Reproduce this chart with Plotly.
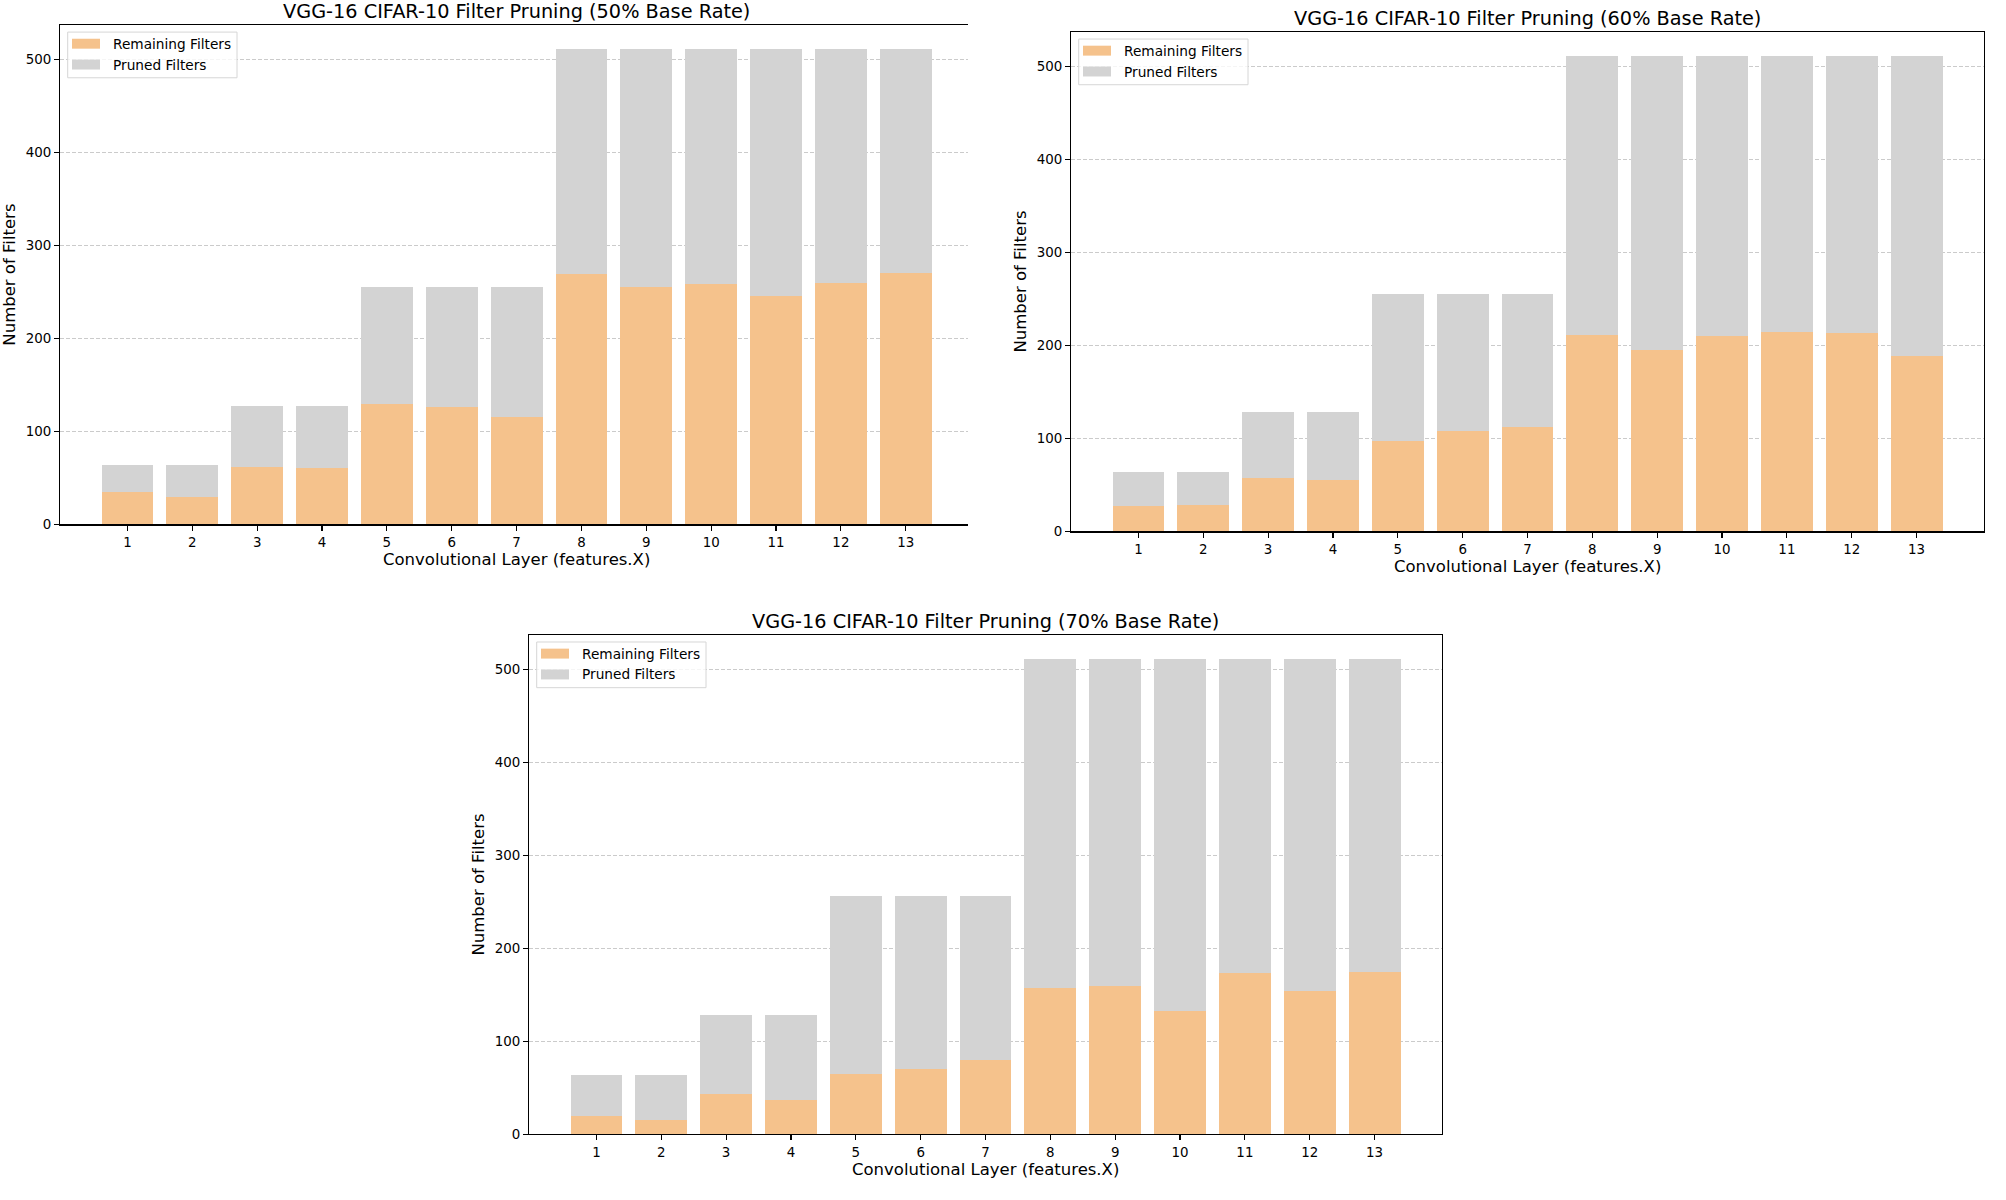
import plotly.graph_objects as go

# ---------------- data ----------------
layers = [1, 2, 3, 4, 5, 6, 7, 8, 9, 10, 11, 12, 13]
layer_labels = [str(v) for v in layers]
total_filters = [64, 64, 128, 128, 256, 256, 256, 512, 512, 512, 512, 512, 512]
remaining_50 = [35, 30, 62, 61, 130, 126, 116, 269, 256, 259, 246, 260, 271]
remaining_60 = [27, 28, 58, 55, 97, 108, 112, 211, 195, 210, 215, 214, 189]
remaining_70 = [20, 16, 43, 37, 65, 70, 80, 157, 160, 133, 174, 154, 175]
rates = ["50%", "60%", "70%"]
y_ticks = [0, 100, 200, 300, 400, 500]

# ---------------- styling ----------------
W, H = 2006, 1200
FONT = "DejaVu Sans"
C_REMAIN = "#F5C28C"
C_PRUNED = "#D3D3D3"
F_TITLE, F_LABEL, F_TICK, F_LEG = 19.3, 16.5, 13.4, 13.7

# axis boxes in window pixels: left, right, top, bottom, x-range
boxes = [
    (60, 968, 25, 528, [-0.04, 13.96]),
    (1071, 1984, 32, 535, [-0.04, 14.04]),
    (529, 1442, 639, 1142, [-0.04, 14.04]),
]


def px(xp):
    return xp / W


def py(yp):
    return 1 - yp / H


fig = go.Figure()
annotations = []
shapes = []

series = [remaining_50, remaining_60, remaining_70]
for i, (rem, rate, box) in enumerate(zip(series, rates, boxes)):
    L, R, T, B, xr = box
    sfx = "" if i == 0 else str(i + 1)
    pruned = [t - r for t, r in zip(total_filters, rem)]
    fig.add_trace(go.Bar(
        x=layers, y=rem, name="Remaining Filters", marker_color=C_REMAIN,
        marker_line_width=0, width=0.8, xaxis="x" + sfx, yaxis="y" + sfx,
        showlegend=False,
    ))
    fig.add_trace(go.Bar(
        x=layers, y=pruned, name="Pruned Filters", marker_color=C_PRUNED,
        marker_line_width=0, width=0.8, xaxis="x" + sfx, yaxis="y" + sfx,
        showlegend=False,
    ))
    axis_common = dict(
        showline=True, linecolor="black", linewidth=1.1,
        ticks="outside", ticklen=5, tickwidth=1.1, tickcolor="black",
        tickfont=dict(family=FONT, size=F_TICK, color="black"),
        zeroline=False,
    )
    fig.update_layout(**{
        "xaxis" + sfx: dict(
            domain=[px(L), px(R)], range=xr, anchor="y" + sfx,
            tickvals=layers, ticktext=layer_labels, showgrid=False,
            mirror=True, **axis_common,
        ),
        "yaxis" + sfx: dict(
            domain=[py(B), py(T)], range=[0, 537.6], anchor="x" + sfx,
            tickvals=y_ticks, showgrid=True, gridcolor="#CBCBCB",
            gridwidth=1, griddash="4px,2px", layer="above traces",
            mirror=(i != 0), **axis_common,
        ),
    })
    full_r = L + 913
    cx = (L + full_r) / 2
    # title
    annotations.append(dict(
        text=f"VGG-16 CIFAR-10 Filter Pruning ({rate} Base Rate)",
        x=px(cx), y=py(T - 13.5), xref="paper", yref="paper",
        xanchor="center", yanchor="middle", showarrow=False,
        font=dict(family=FONT, size=F_TITLE, color="black"),
    ))
    # x label
    annotations.append(dict(
        text="Convolutional Layer (features.X)",
        x=px(cx), y=py(B + 35), xref="paper", yref="paper",
        xanchor="center", yanchor="middle", showarrow=False,
        font=dict(family=FONT, size=F_LABEL, color="black"),
    ))
    # y label
    annotations.append(dict(
        text="Number of Filters", textangle=-90,
        x=px(L - 50), y=py((T + B) / 2), xref="paper", yref="paper",
        xanchor="center", yanchor="middle", showarrow=False,
        font=dict(family=FONT, size=F_LABEL, color="black"),
    ))
    # legend box
    shapes.append(dict(
        type="rect", xref="paper", yref="paper",
        x0=px(L + 7.7), x1=px(L + 177), y0=py(T + 7.3), y1=py(T + 53.3),
        line=dict(color="#D6D6D6", width=1), fillcolor="rgba(255,255,255,0.8)",
        layer="above",
    ))
    for j, (lab, col) in enumerate([("Remaining Filters", C_REMAIN),
                                    ("Pruned Filters", C_PRUNED)]):
        y0 = T + 14 + 21 * j
        shapes.append(dict(
            type="rect", xref="paper", yref="paper",
            x0=px(L + 12), x1=px(L + 40), y0=py(y0), y1=py(y0 + 10),
            line=dict(width=0), fillcolor=col, layer="above",
        ))
        annotations.append(dict(
            text=lab, x=px(L + 51), y=py(y0 + 5), xref="paper", yref="paper",
            xanchor="left", yanchor="middle", showarrow=False,
            font=dict(family=FONT, size=F_LEG, color="black"),
        ))

fig.update_layout(
    width=W, height=H, margin=dict(l=0, r=0, t=0, b=0),
    paper_bgcolor="white", plot_bgcolor="white",
    barmode="stack", bargap=0.2, showlegend=False, hovermode=False,
    annotations=annotations, shapes=shapes,
    font=dict(family=FONT, color="black"),
)

fig.write_html(
    "out.html",
    config={"displayModeBar": False, "staticPlot": True},
    post_script="document.body.style.margin='0';document.body.style.overflow='hidden';",
)
